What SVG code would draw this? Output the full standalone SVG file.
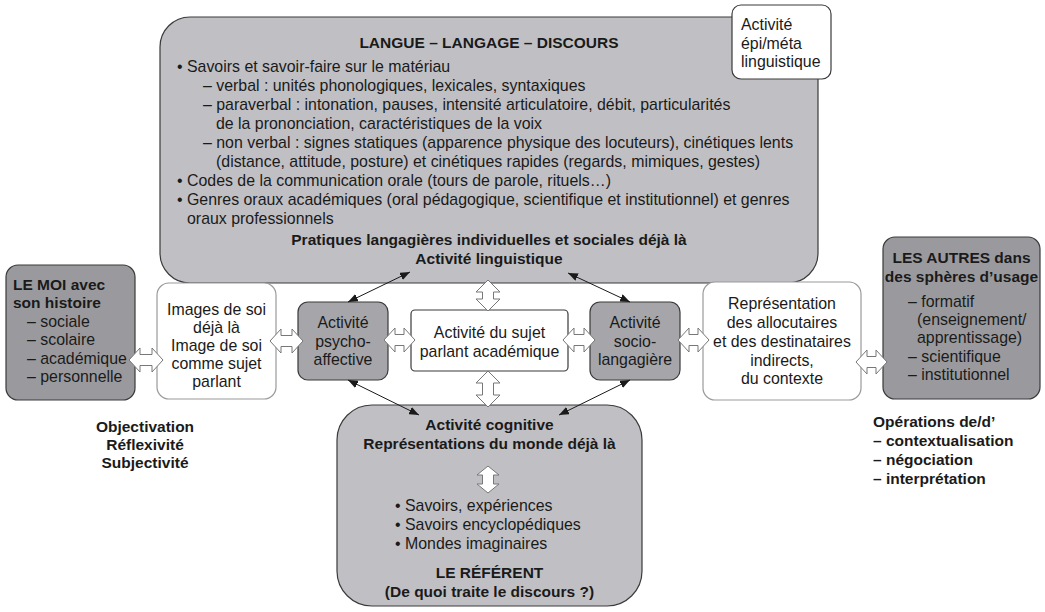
<svg xmlns="http://www.w3.org/2000/svg" width="1045" height="612" viewBox="0 0 1045 612">
<defs>
<style>
text{font-family:"Liberation Sans",Arial,Helvetica,sans-serif;font-size:15.9px;fill:#1a1a1a}
.b{font-weight:bold;font-size:15.5px}
.c{text-anchor:middle}
.light{fill:#c0c0c4;stroke:#3a3a3a;stroke-width:1.2}
.mid{fill:#a6a6aa;stroke:#3a3a3a;stroke-width:1.2}
.dark{fill:#9a9a9e;stroke:#3a3a3a;stroke-width:1.2}
.white{fill:#fff;stroke:#3a3a3a;stroke-width:1.2}
.whiteg{fill:#fff;stroke:#9a9a9a;stroke-width:1.2}
.hol{fill:#fff;stroke:#777;stroke-width:1}
.ln{stroke:#1a1a1a;stroke-width:1;fill:none;marker-start:url(#ah);marker-end:url(#ah)}
</style>
<marker id="ah" viewBox="0 0 10 8" refX="10" refY="4" markerWidth="10" markerHeight="8" markerUnits="userSpaceOnUse" orient="auto-start-reverse">
<path d="M0,0 L10,4 L0,8 Z" fill="#1a1a1a"/>
</marker>
</defs>

<g id="langue">
<rect class="light" x="160" y="17" width="658" height="266" rx="30"/>
<text class="b c" x="489" y="48">LANGUE – LANGAGE – DISCOURS</text>
<text x="177" y="72">• Savoirs et savoir-faire sur le matériau</text>
<text x="203" y="91">– verbal : unités phonologiques, lexicales, syntaxiques</text>
<text x="203" y="110">– paraverbal : intonation, pauses, intensité articulatoire, débit, particularités</text>
<text x="216" y="129">de la prononciation, caractéristiques de la voix</text>
<text x="203" y="148">– non verbal : signes statiques (apparence physique des locuteurs), cinétiques lents</text>
<text x="216" y="167">(distance, attitude, posture) et cinétiques rapides (regards, mimiques, gestes)</text>
<text x="177" y="186">• Codes de la communication orale (tours de parole, rituels…)</text>
<text x="177" y="205">• Genres oraux académiques (oral pédagogique, scientifique et institutionnel) et genres</text>
<text x="187" y="224">oraux professionnels</text>
<text class="b c" x="489" y="245">Pratiques langagières individuelles et sociales déjà là</text>
<text class="b c" x="489" y="264">Activité linguistique</text>
</g>

<g id="epi">
<rect class="white" x="732" y="5" width="99" height="74" rx="9"/>
<text x="741" y="30">Activité</text>
<text x="741" y="48.5">épi/méta</text>
<text x="741" y="67">linguistique</text>
</g>

<g id="moi">
<rect class="dark" x="6" y="265" width="129" height="135" rx="12"/>
<text class="b" x="13" y="290">LE MOI avec</text>
<text class="b" x="13" y="308">son histoire</text>
<text x="27" y="327">– sociale</text>
<text x="27" y="345">– scolaire</text>
<text x="27" y="364">– académique</text>
<text x="27" y="382">– personnelle</text>
</g>

<g id="images">
<rect class="whiteg" x="157" y="283" width="119" height="116" rx="12"/>
<text class="c" x="216.5" y="315">Images de soi</text>
<text class="c" x="216.5" y="333">déjà là</text>
<text class="c" x="216.5" y="351">Image de soi</text>
<text class="c" x="216.5" y="369">comme sujet</text>
<text class="c" x="216.5" y="387">parlant</text>
</g>

<g id="psycho">
<rect class="mid" x="298" y="302" width="90" height="78" rx="10"/>
<text class="c" x="343" y="328">Activité</text>
<text class="c" x="343" y="347">psycho-</text>
<text class="c" x="343" y="365">affective</text>
</g>

<g id="sujet">
<rect class="white" x="411" y="310" width="157" height="61" rx="4"/>
<text class="c" x="489.5" y="338">Activité du sujet</text>
<text class="c" x="489.5" y="357">parlant académique</text>
</g>

<g id="socio">
<rect class="mid" x="590" y="302" width="90" height="78" rx="10"/>
<text class="c" x="635" y="328">Activité</text>
<text class="c" x="635" y="347">socio-</text>
<text class="c" x="635" y="365">langagière</text>
</g>

<g id="representation">
<rect class="whiteg" x="703" y="282" width="158" height="118" rx="12"/>
<text class="c" x="782" y="308.5">Représentation</text>
<text class="c" x="782" y="327.5">des allocutaires</text>
<text class="c" x="782" y="347">et des destinataires</text>
<text class="c" x="782" y="365.5">indirects,</text>
<text class="c" x="782" y="383.5">du contexte</text>
</g>

<g id="autres">
<rect class="dark" x="883" y="237" width="157" height="162" rx="12"/>
<text class="b c" x="961.5" y="263">LES AUTRES dans</text>
<text class="b c" x="961.5" y="282">des sphères d’usage</text>
<text x="908" y="307">– formatif</text>
<text x="917" y="325">(enseignement/</text>
<text x="917" y="343">apprentissage)</text>
<text x="908" y="362">– scientifique</text>
<text x="908" y="380">– institutionnel</text>
</g>

<g id="cognitive">
<rect class="light" x="337" y="405" width="305" height="201" rx="35"/>
<text class="b c" x="489.5" y="430">Activité cognitive</text>
<text class="b c" x="489.5" y="449">Représentations du monde déjà là</text>
<text x="395" y="511">• Savoirs, expériences</text>
<text x="395" y="530">• Savoirs encyclopédiques</text>
<text x="395" y="549">• Mondes imaginaires</text>
<text class="b c" x="489.5" y="578">LE RÉFÉRENT</text>
<text class="b c" x="489.5" y="597">(De quoi traite le discours ?)</text>
</g>

<g id="objectivation">
<text class="b c" x="145" y="432">Objectivation</text>
<text class="b c" x="145" y="450">Réflexivité</text>
<text class="b c" x="145" y="468">Subjectivité</text>
</g>

<g id="operations">
<text class="b" x="873" y="427">Opérations de/d’</text>
<text class="b" x="873" y="446">– contextualisation</text>
<text class="b" x="873" y="465">– négociation</text>
<text class="b" x="873" y="484">– interprétation</text>
</g>

<g id="connectors">
<line class="ln" x1="348" y1="302" x2="410" y2="272"/>
<line class="ln" x1="630" y1="302" x2="568" y2="273"/>
<line class="ln" x1="348" y1="380" x2="419" y2="415"/>
<line class="ln" x1="630" y1="380" x2="559" y2="415"/>
<path class="hol" d="M129,360 L140,348 L140,354.5 L152,354.5 L152,348 L163,360 L152,372 L152,365.5 L140,365.5 L140,372 Z"/>
<path class="hol" d="M270,341 L281,329 L281,335.5 L292,335.5 L292,329 L303,341 L292,353 L292,346.5 L281,346.5 L281,353 Z"/>
<path class="hol" d="M384,340 L395,328 L395,334.5 L404,334.5 L404,328 L415,340 L404,352 L404,345.5 L395,345.5 L395,352 Z"/>
<path class="hol" d="M563,340 L574,328 L574,334.5 L584,334.5 L584,328 L595,340 L584,352 L584,345.5 L574,345.5 L574,352 Z"/>
<path class="hol" d="M678,340 L689,328 L689,334.5 L698,334.5 L698,328 L709,340 L698,352 L698,345.5 L689,345.5 L689,352 Z"/>
<path class="hol" d="M856,362 L867,350 L867,356.5 L876,356.5 L876,350 L887,362 L876,374 L876,367.5 L867,367.5 L867,374 Z"/>
<path class="hol" d="M488,280 L500,292 L493.5,292 L493.5,299 L500,299 L488,311 L476,299 L482.5,299 L482.5,292 L476,292 Z"/>
<path class="hol" d="M488,371 L500,383 L493.5,383 L493.5,395 L500,395 L488,407 L476,395 L482.5,395 L482.5,383 L476,383 Z"/>
<path class="hol" d="M488,466 L499,475 L493.5,475 L493.5,484 L499,484 L488,493 L477,484 L482.5,484 L482.5,475 L477,475 Z"/>
</g>
</svg>
